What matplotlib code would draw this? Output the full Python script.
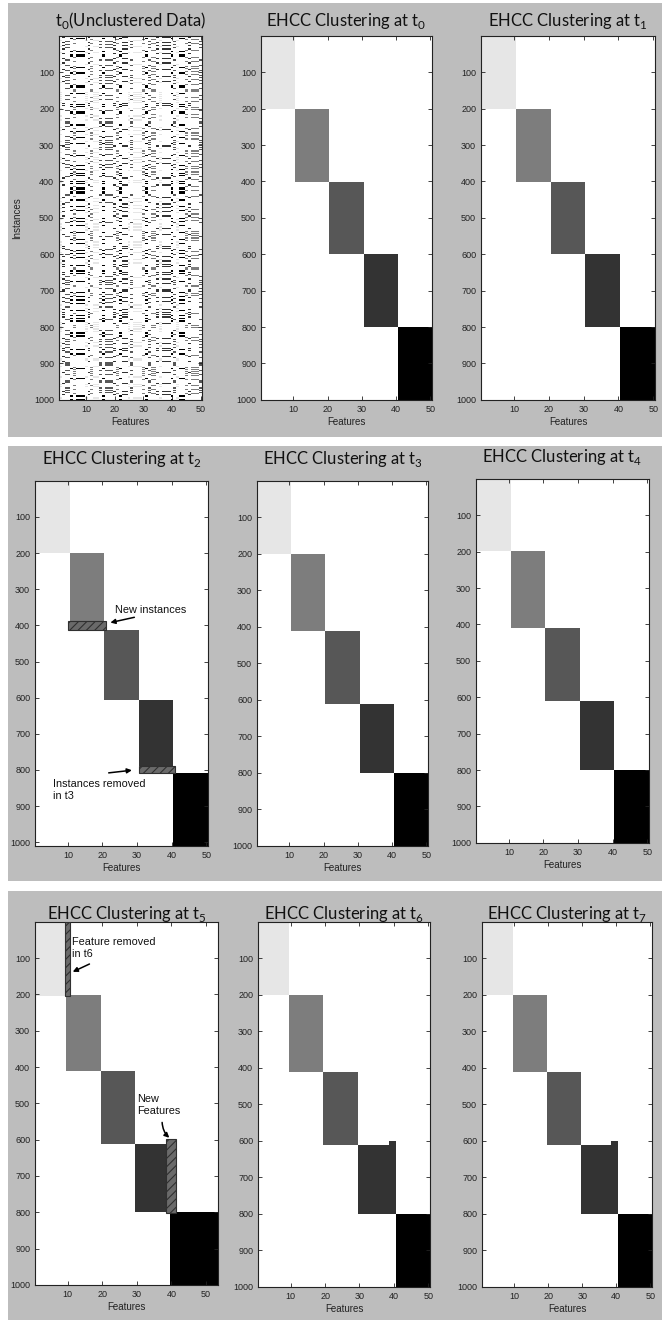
import numpy as np
import matplotlib
matplotlib.use("Agg")
import matplotlib.pyplot as plt
from matplotlib.patches import Rectangle

plt.rcParams['mathtext.fontset'] = 'custom'
plt.rcParams['mathtext.rm'] = 'Lato'
plt.rcParams['hatch.linewidth'] = 0.8

W, H = 662, 1320
N_ROWS = 1000
N_COLS = 50

# gray level of each cluster (0 = black, 1 = white)
CLUSTER_GRAY = [0.90, 0.49, 0.34, 0.20, 0.0]

# blocks: (first row, last row, first col, last col) per cluster
BLOCKS_T0 = [(1, 200, 1, 10), (201, 400, 11, 20), (401, 600, 21, 30),
             (601, 800, 31, 40), (801, 1000, 41, 50)]
BLOCKS_T1 = [(1, 200, 1, 10), (201, 400, 11, 20), (401, 600, 21, 30),
             (601, 800, 31, 40), (801, 1000, 41, 50)]
BLOCKS_T2 = [(1, 200, 1, 10), (201, 388, 11, 20), (412, 606, 21, 30),
             (607, 788, 31, 40), (809, 1010, 41, 50)]
BLOCKS_T3 = [(1, 200, 1, 10), (201, 410, 11, 20), (411, 612, 21, 30),
             (613, 800, 31, 40), (801, 1000, 41, 50)]
BLOCKS_T4 = [(1, 200, 1, 10), (201, 410, 11, 20), (411, 612, 21, 30),
             (613, 800, 31, 40), (801, 1000, 41, 50)]
BLOCKS_T5 = [(1, 205, 1, 9), (201, 410, 10, 19), (411, 612, 20, 29),
             (613, 800, 30, 38), (801, 1000, 40, 53)]
BLOCKS_T6 = [(1, 200, 1, 9), (201, 410, 10, 19), (411, 612, 20, 29),
             (613, 800, 30, 40), (801, 1000, 41, 50)]
BLOCKS_T7 = [(1, 200, 1, 9), (201, 410, 10, 19), (411, 612, 20, 29),
             (613, 800, 30, 40), (801, 1000, 41, 50)]
# small extra piece of cluster 4 (new features kept) in t6 / t7
EXTRA_T6 = [(601, 612, 39, 40, 3)]
EXTRA_T7 = [(601, 612, 39, 40, 3)]

# hatched (changing) regions: (row top, row bottom, col left, col right)
HATCH_T2 = [(388, 412, 10.0, 21.0), (788, 808, 30.5, 41.0)]
HATCH_T5 = [(0.5, 205, 9.3, 10.5), (598, 802, 38.5, 41.3)]

# rows / cols ordering for the unclustered view of t0 (quadratic permutations)
ROW_A, ROW_B = 379, 10
COL_A, COL_B = 17, 10

X_TICKS = [10, 20, 30, 40, 50]
Y_TICKS = [100, 200, 300, 400, 500, 600, 700, 800, 900, 1000]

TITLES = ['t$_\\mathrm{0}$(Unclustered Data)',
          'EHCC Clustering at t$_\\mathrm{0}$',
          'EHCC Clustering at t$_\\mathrm{1}$',
          'EHCC Clustering at t$_\\mathrm{2}$',
          'EHCC Clustering at t$_\\mathrm{3}$',
          'EHCC Clustering at t$_\\mathrm{4}$',
          'EHCC Clustering at t$_\\mathrm{5}$',
          'EHCC Clustering at t$_\\mathrm{6}$',
          'EHCC Clustering at t$_\\mathrm{7}$']


def block_matrix(blocks, nrows, ncols, extra=()):
    m = np.ones((nrows, ncols))
    for k, (r0, r1, c0, c1) in enumerate(blocks):
        m[r0 - 1:r1, c0 - 1:c1] = CLUSTER_GRAY[k]
    for (r0, r1, c0, c1, k) in extra:
        m[r0 - 1:r1, c0 - 1:c1] = CLUSTER_GRAY[k]
    return m


def scramble(n, a, b):
    x = np.arange(n)
    return np.argsort((a * x + b * x * x) % n, kind='stable')


base = block_matrix(BLOCKS_T0, N_ROWS, N_COLS)
row_order = scramble(N_ROWS, ROW_A, ROW_B)
col_order = scramble(N_COLS, COL_A, COL_B)
unclustered = base[row_order][:, col_order]

fig = plt.figure(figsize=(W / 100, H / 100), dpi=100)
fig.patch.set_facecolor('white')

# gray group panels (pixel coords: x0, y0, x1, y1)
GROUPS = [(8, 3, 662, 437), (8, 446, 662, 881), (8, 891, 662, 1320)]
for (x0, y0, x1, y1) in GROUPS:
    fig.patches.append(Rectangle((x0 / W, 1 - y1 / H), (x1 - x0) / W, (y1 - y0) / H,
                                 transform=fig.transFigure, facecolor='#bdbdbd',
                                 edgecolor='none', zorder=-5))


def px_rect(x0, y0, x1, y1):
    return [x0 / W, 1 - y1 / H, (x1 - x0) / W, (y1 - y0) / H]


AX_POS = [(59, 36, 202, 400), (261, 36, 432, 400), (481, 36, 655, 400),
          (35, 481, 208, 846), (257, 481, 428, 846), (476, 479, 649, 843),
          (35, 922, 218, 1285), (258, 922, 430, 1287), (482, 922, 652, 1287)]
TITLE_PAD = [7.5, 7.5, 7.5, 12, 12, 12, 2, 2, 2]

panels = [
    (unclustered, 1000, 50, []),
    (block_matrix(BLOCKS_T0, 1000, 50), 1000, 50, []),
    (block_matrix(BLOCKS_T1, 1000, 50), 1000, 50, []),
    (block_matrix(BLOCKS_T2, 1010, 50), 1010, 50, HATCH_T2),
    (block_matrix(BLOCKS_T3, 1000, 50), 1000, 50, []),
    (block_matrix(BLOCKS_T4, 1000, 50), 1000, 50, []),
    (block_matrix(BLOCKS_T5, 1000, 53), 1000, 53, HATCH_T5),
    (block_matrix(BLOCKS_T6, 1000, 50, EXTRA_T6), 1000, 50, []),
    (block_matrix(BLOCKS_T7, 1000, 50, EXTRA_T7), 1000, 50, []),
]

axes = []
for i, (mat, nr, nc, hatches) in enumerate(panels):
    ax = fig.add_axes(px_rect(*AX_POS[i]), zorder=2)
    ax.set_facecolor('white')
    ax.imshow(mat, cmap='gray', vmin=0, vmax=1, aspect='auto', interpolation='nearest',
              extent=(0.5, nc + 0.5, nr + 0.5, 0.5))
    for (r0, r1, c0, c1) in hatches:
        ax.add_patch(Rectangle((c0, r0), c1 - c0, r1 - r0, facecolor='#6a6a6a',
                               edgecolor='#303030', hatch='////', linewidth=0.8, zorder=3))
    ax.set_xlim(0.5, nc + 0.5)
    ax.set_ylim(nr + 0.5, 0.5)
    ax.set_xticks(X_TICKS)
    ax.set_yticks(Y_TICKS)
    ax.tick_params(direction='in', top=True, right=True, length=3, width=0.6,
                   labelsize=6.5, colors='#222222', pad=3.5)
    for lab in ax.get_xticklabels() + ax.get_yticklabels():
        lab.set_family('Liberation Sans')
    for s in ax.spines.values():
        s.set_linewidth(0.8)
        s.set_color('#222222')
    ax.set_title(TITLES[i], fontsize=12, family='Lato', color='#111111', pad=TITLE_PAD[i])
    ax.set_xlabel('Features', fontsize=7, family='Liberation Sans', color='#222222',
                  labelpad=2)
    axes.append(ax)

axes[0].set_ylabel('Instances', fontsize=7, family='Liberation Sans', color='#222222',
                   labelpad=9)

ann_font = dict(fontsize=7.8, family='Liberation Sans', color='#111111')
arrow = dict(arrowstyle='-|>', color='black', lw=1.1, mutation_scale=7)

a = axes[3]
a.text(23.5, 357, 'New instances', ha='left', va='center', **ann_font)
a.annotate('', xy=(21.5, 394), xytext=(30, 376), arrowprops=dict(arrow))
a.annotate('', xy=(29.3, 800), xytext=(21, 809), arrowprops=dict(arrow))
a.text(5.6, 855, 'Instances removed\nin t3', ha='left', va='center', linespacing=1.25,
       **ann_font)

a = axes[6]
a.text(11.3, 73, 'Feature removed\nin t6', ha='left', va='center', linespacing=1.25,
       **ann_font)
a.annotate('', xy=(10.7, 141), xytext=(17, 113), arrowprops=dict(arrow))
a.text(30.0, 505, 'New\nFeatures', ha='left', va='center', linespacing=1.25, **ann_font)
a.annotate('', xy=(40.0, 600), xytext=(37.3, 545),
           arrowprops=dict(arrow, connectionstyle='arc3,rad=0.25'))

fig.savefig('out.png', dpi=100, facecolor='white')
